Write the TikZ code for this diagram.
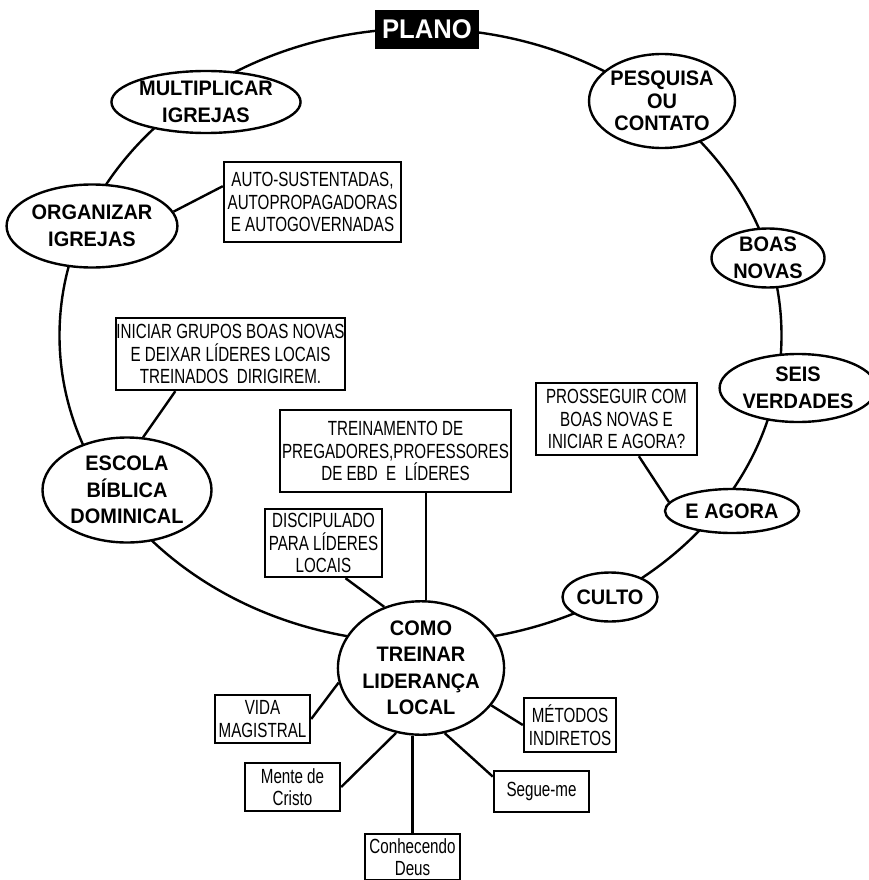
\documentclass[tikz,border=0pt]{standalone}
\usepackage{fontspec}
\setmainfont{Liberation Sans}
\newfontfamily\narrowfont[FakeStretch=0.74]{Liberation Sans}
\newfontfamily\boldnarrow[FakeStretch=0.95]{Liberation Sans}
\usetikzlibrary{shapes.geometric}
\tikzset{
  ring/.style={line width=2.4pt},
  conn/.style={line width=2.4pt},
  ell/.style={ellipse, draw, line width=2.4pt, fill=white, inner sep=0pt, align=center,
    font=\boldnarrow\fontsize{21}{26.5}\selectfont\bfseries},
  boxn/.style={rectangle, draw, line width=2.4pt, fill=white, inner sep=0pt, align=center,
    font=\narrowfont\fontsize{20.5}{22.5}\selectfont},
  title/.style={rectangle, fill=black, text=white, inner sep=0pt,
    font=\boldnarrow\fontsize{27}{30}\selectfont\bfseries}
}
\begin{document}
\begin{tikzpicture}[x=1pt,y=-1pt]
\useasboundingbox (0,0) rectangle (869,880);
% ring
\draw[ring] (420.5,335.5) ellipse [x radius=361, y radius=307];
% ring nodes
\node[title, minimum width=104pt, minimum height=39pt] (plano) at (427,29.5) {PLANO};
\node[ell, minimum width=172pt, minimum height=62pt] (multi) at (206,102) {MULTIPLICAR\\IGREJAS};
\node[ell, minimum width=146pt, minimum height=94pt, font=\boldnarrow\fontsize{21}{22.5}\selectfont\bfseries] (pesq) at (662,101) {PESQUISA\\OU\\CONTATO};
\node[ell, minimum width=113pt, minimum height=59pt] (boas) at (768,258) {BOAS\\NOVAS};
\node[ell, minimum width=137pt, minimum height=68pt] (seis) at (798,388) {SEIS\\VERDADES};
\node[ell, minimum width=134pt, minimum height=44pt] (eagora) at (732,511) {E AGORA};
\node[ell, minimum width=95pt, minimum height=49pt] (culto) at (610,597) {CULTO};
\node[ell, minimum width=164pt, minimum height=122pt] (como) at (421,668) {COMO\\TREINAR\\LIDERANÇA\\LOCAL};
\node[ell, minimum width=169pt, minimum height=105pt] (escola) at (127,490) {ESCOLA\\BÍBLICA\\DOMINICAL};
\node[ell, minimum width=168pt, minimum height=83pt] (organ) at (92,226) {ORGANIZAR\\IGREJAS};
% boxes
\node[boxn, minimum width=177pt, minimum height=80pt] (auto) at (312.5,202) {AUTO-SUSTENTADAS,\\AUTOPROPAGADORAS\\E AUTOGOVERNADAS};
\node[boxn, minimum width=229pt, minimum height=72pt] (iniciar) at (230.5,354) {INICIAR GRUPOS BOAS NOVAS\\E DEIXAR LÍDERES LOCAIS\\TREINADOS\ \ DIRIGIREM.};
\node[boxn, minimum width=231pt, minimum height=82pt] (treino) at (395.5,451) {TREINAMENTO DE\\PREGADORES,PROFESSORES\\DE EBD\ \ E\ \ LÍDERES};
\node[boxn, minimum width=117pt, minimum height=68pt] (disc) at (323.5,543) {DISCIPULADO\\PARA LÍDERES\\LOCAIS};
\node[boxn, minimum width=161pt, minimum height=72pt] (prosseg) at (616.5,419) {PROSSEGUIR COM\\BOAS NOVAS E\\INICIAR E AGORA?};
\node[boxn, minimum width=95pt, minimum height=48pt] (vida) at (262.5,719) {VIDA\\MAGISTRAL};
\node[boxn, minimum width=95pt, minimum height=48pt] (mente) at (292.5,787) {Mente de\\Cristo};
\node[boxn, minimum width=95pt, minimum height=46pt] (conh) at (412.5,857) {Conhecendo\\Deus};
\node[boxn, minimum width=95pt, minimum height=41pt] (segue) at (541.5,791.5) {Segue-me};
\node[boxn, minimum width=92pt, minimum height=54pt] (metodos) at (570,725) {MÉTODOS\\INDIRETOS};
% connectors
\draw[conn] (organ.10) -- (auto.170);
\draw[conn] (iniciar.214) -- (escola.73);
\draw[conn] ([xshift=5pt]como.north) -- ([xshift=5pt]como.north |- treino.south);
\draw[conn] (disc.302) -- (como.121);
\draw[conn] (prosseg.301) -- (eagora.172);
\draw[conn] (como.190) -- (vida.east);
\draw[conn] (como.249) -- (mente.east);
\draw[conn] (como.south -| conh.north) -- (conh.north);
\draw[conn] (como.290) -- (segue.163);
\draw[conn] (como.332) -- (metodos.west);
\end{tikzpicture}
\end{document}
